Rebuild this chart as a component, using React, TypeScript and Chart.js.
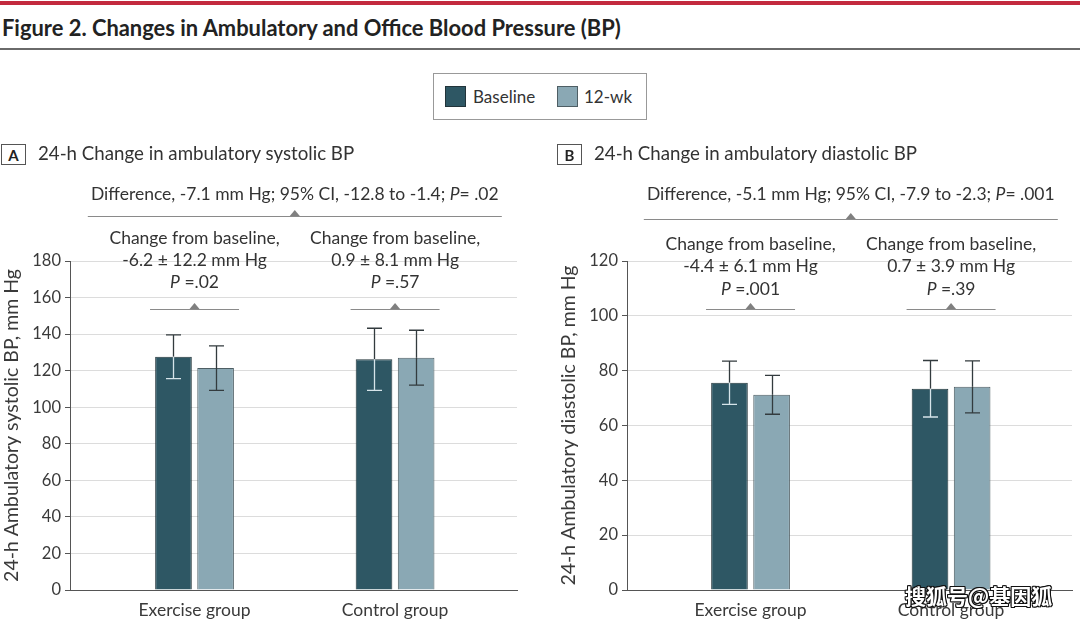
import React, { useEffect, useRef } from 'react';
import { Chart, registerables } from 'chart.js';

Chart.register(...registerables);

const FONT = 'Lato, "Noto Sans", Roboto, sans-serif';
const TEXT = '#333333';
const BASE_COLOR = '#2e5764';
const WK_COLOR = '#8aa8b4';

// ---- data ----
const groups = ['Exercise group', 'Control group'];
const groupPositions = [1, 2];
const seriesNames = ['Baseline', '12-wk'];

const systolicBaseline = [127.6, 126.2];
const systolicBaselineSD = [12.0, 17.0];
const systolic12wk = [121.4, 127.1];
const systolic12wkSD = [12.2, 15.0];

const diastolicBaseline = [75.6, 73.4];
const diastolicBaselineSD = [7.9, 10.3];
const diastolic12wk = [71.2, 74.1];
const diastolic12wkSD = [7.1, 9.5];

const systolicTicks = [0, 20, 40, 60, 80, 100, 120, 140, 160, 180];
const diastolicTicks = [0, 20, 40, 60, 80, 100, 120];

const systolicDifference = 'Difference, -7.1 mm Hg; 95% CI, -12.8 to -1.4; ';
const systolicDifferenceP = '= .02';
const systolicChange = ['-6.2 ± 12.2 mm Hg', '0.9 ± 8.1 mm Hg'];
const systolicChangeP = [' =.02', ' =.57'];

const diastolicDifference = 'Difference, -5.1 mm Hg; 95% CI, -7.9 to -2.3; ';
const diastolicDifferenceP = '= .001';
const diastolicChange = ['-4.4 ± 6.1 mm Hg', '0.7 ± 3.9 mm Hg'];
const diastolicChangeP = [' =.001', ' =.39'];

// ---- helpers ----
type Seg = { t: string; i?: boolean };

const ANNOT_SIZE = 17.5;

function drawRich(ctx: CanvasRenderingContext2D, segs: Seg[], cx: number, cy: number, size: number) {
  const fontOf = (s: Seg) => `${s.i ? 'italic ' : ''}${size}px ${FONT}`;
  let total = 0;
  const widths = segs.map((s) => {
    ctx.font = fontOf(s);
    const w = ctx.measureText(s.t).width;
    total += w;
    return w;
  });
  let x = cx - total / 2;
  ctx.textBaseline = 'middle';
  ctx.textAlign = 'left';
  ctx.fillStyle = TEXT;
  segs.forEach((s, k) => {
    ctx.font = fontOf(s);
    ctx.fillText(s.t, x, cy);
    x += widths[k];
  });
}

function drawBracket(ctx: CanvasRenderingContext2D, cx: number, y: number, half: number) {
  ctx.strokeStyle = '#8a8a8a';
  ctx.lineWidth = 1;
  ctx.beginPath();
  ctx.moveTo(cx - half, Math.round(y) + 0.5);
  ctx.lineTo(cx + half, Math.round(y) + 0.5);
  ctx.stroke();
  ctx.fillStyle = '#808080';
  ctx.beginPath();
  ctx.moveTo(cx - 5, Math.round(y));
  ctx.lineTo(cx + 5, Math.round(y));
  ctx.lineTo(cx, Math.round(y) - 6);
  ctx.closePath();
  ctx.fill();
}

const annotPlugin = {
  id: 'bpAnnot',
  afterDraw(chart: any, _args: any, opts: any) {
    const ctx: CanvasRenderingContext2D = chart.ctx;
    const xs = chart.scales.x;
    const centers = groupPositions.map((v) => xs.getPixelForValue(v));
    const mid = (centers[0] + centers[1]) / 2;
    ctx.save();
    drawRich(ctx, [{ t: opts.diff }, { t: 'P', i: true }, { t: opts.diffP }], mid, opts.diffY, ANNOT_SIZE);
    drawBracket(ctx, mid, opts.bigLineY, 207);
    centers.forEach((c, i) => {
      drawRich(ctx, [{ t: 'Change from baseline,' }], c, opts.lineY[0], ANNOT_SIZE);
      drawRich(ctx, [{ t: opts.change[i] }], c, opts.lineY[1], ANNOT_SIZE);
      drawRich(ctx, [{ t: 'P', i: true }, { t: opts.p[i] }], c, opts.lineY[2], ANNOT_SIZE);
      drawBracket(ctx, c, opts.smallLineY, 44.5);
    });
    ctx.restore();
  },
};

const errorBarPlugin = {
  id: 'errBars',
  afterDatasetsDraw(chart: any) {
    const ctx: CanvasRenderingContext2D = chart.ctx;
    const ys = chart.scales.y;
    ctx.save();
    ctx.lineWidth = 1.3;
    chart.data.datasets.forEach((ds: any, di: number) => {
      const meta = chart.getDatasetMeta(di);
      meta.data.forEach((bar: any, i: number) => {
        const v = ds.data[i].y;
        const e = ds.errors[i];
        const yTop = ys.getPixelForValue(v + e);
        const yBot = ys.getPixelForValue(v - e);
        const x = Math.round(bar.x) + 0.5;
        const cap = 7.5;
        ctx.strokeStyle = '#333b3e';
        ctx.beginPath();
        ctx.moveTo(x, yTop);
        ctx.lineTo(x, bar.y);
        ctx.moveTo(x - cap, yTop);
        ctx.lineTo(x + cap, yTop);
        ctx.stroke();
        ctx.strokeStyle = ds.errInner;
        ctx.beginPath();
        ctx.moveTo(x, bar.y);
        ctx.lineTo(x, yBot);
        ctx.moveTo(x - cap, yBot);
        ctx.lineTo(x + cap, yBot);
        ctx.stroke();
      });
    });
    ctx.restore();
  },
};

type PanelProps = {
  left: number;
  width: number;
  padLeft: number;
  padRight: number;
  xMin: number;
  xMax: number;
  yMax: number;
  yTicks: number[];
  baseline: number[];
  baselineSD: number[];
  wk12: number[];
  wk12SD: number[];
  yTitle: string;
  annot: any;
};

function BPChart(p: PanelProps) {
  const ref = useRef<HTMLCanvasElement>(null);
  useEffect(() => {
    const chart = new Chart(ref.current as HTMLCanvasElement, {
      type: 'bar',
      data: {
        datasets: [
          {
            label: seriesNames[0],
            data: groupPositions.map((x, i) => ({ x, y: p.baseline[i] })),
            errors: p.baselineSD,
            errInner: '#d6e4e9',
            backgroundColor: BASE_COLOR,
            borderColor: '#22343a',
            borderWidth: 1,
            categoryPercentage: 0.42,
            barPercentage: 0.87,
          } as any,
          {
            label: seriesNames[1],
            data: groupPositions.map((x, i) => ({ x, y: p.wk12[i] })),
            errors: p.wk12SD,
            errInner: '#333b3e',
            backgroundColor: WK_COLOR,
            borderColor: '#4e5e64',
            borderWidth: 1,
            categoryPercentage: 0.42,
            barPercentage: 0.87,
          } as any,
        ],
      },
      options: {
        responsive: false,
        animation: false,
        devicePixelRatio: 1,
        layout: { padding: { left: p.padLeft, right: p.padRight, top: 261, bottom: 0 } },
        plugins: {
          legend: { display: false },
          tooltip: { enabled: false },
          bpAnnot: p.annot,
        } as any,
        scales: {
          x: {
            type: 'linear',
            min: p.xMin,
            max: p.xMax,
            offset: false,
            afterBuildTicks: (s: any) => {
              s.ticks = groupPositions.map((v) => ({ value: v }));
            },
            afterFit: (s: any) => {
              s.height = 32;
            },
            ticks: {
              autoSkip: false,
              maxRotation: 0,
              padding: 10,
              color: '#3a3a3a',
              font: { family: FONT, size: 17.5 },
              callback: (v: any) => groups[groupPositions.indexOf(Number(v))] ?? '',
            },
            grid: { display: false, drawTicks: false, offset: false },
            border: { display: true, color: '#555555', width: 1 },
          },
          y: {
            min: 0,
            max: p.yMax,
            afterBuildTicks: (s: any) => {
              s.ticks = p.yTicks.map((v) => ({ value: v }));
            },
            afterFit: (s: any) => {
              s.width = 70;
            },
            ticks: {
              padding: 4,
              color: '#3a3a3a',
              font: { family: FONT, size: 16.5 },
            },
            grid: {
              color: (c: any) => (c.tick && c.tick.value === 0 ? 'rgba(0,0,0,0)' : '#dcdcdc'),
              tickColor: '#555555',
              tickLength: 5,
              lineWidth: 1,
            },
            border: { display: true, color: '#555555', width: 1 },
            title: {
              display: true,
              text: p.yTitle,
              color: '#3a3a3a',
              font: { family: FONT, size: 19.5 },
              padding: { top: 0, bottom: 0 },
            },
          },
        },
      } as any,
      plugins: [errorBarPlugin, annotPlugin],
    });
    return () => chart.destroy();
  }, []);
  return (
    <canvas
      ref={ref}
      width={p.width}
      height={622}
      style={{ position: 'absolute', left: p.left, top: 0, width: p.width, height: 622 }}
    />
  );
}

function PanelHeading({ letter, text, boxLeft, textLeft }: { letter: string; text: string; boxLeft: number; textLeft: number }) {
  return (
    <>
      <div
        style={{
          position: 'absolute',
          left: boxLeft,
          top: 144,
          width: 25,
          height: 21,
          border: '1px solid #555',
          boxSizing: 'border-box',
          font: `bold 15px ${FONT}`,
          color: '#222',
          display: 'flex',
          alignItems: 'center',
          justifyContent: 'center',
          background: '#fff',
        }}
      >
        {letter}
      </div>
      <div
        style={{
          position: 'absolute',
          left: textLeft,
          top: 142,
          height: 22,
          lineHeight: '22px',
          font: `18.7px ${FONT}`,
          color: '#333',
          whiteSpace: 'nowrap',
        }}
      >
        {text}
      </div>
    </>
  );
}

export default function App() {
  return (
    <div
      style={{
        position: 'fixed',
        left: 0,
        top: 0,
        width: 1080,
        height: 622,
        background: '#ffffff',
        overflow: 'hidden',
        fontFamily: FONT,
      }}
    >
      <div style={{ position: 'absolute', left: 0, top: 1, width: 1080, height: 4, background: '#c32a3e' }} />
      <div
        style={{
          position: 'absolute',
          left: 2,
          top: 14,
          height: 28,
          lineHeight: '28px',
          font: `bold 21.9px ${FONT}`,
          color: '#222',
          whiteSpace: 'nowrap',
        }}
      >
        Figure 2. Changes in Ambulatory and Office Blood Pressure (BP)
      </div>
      <div style={{ position: 'absolute', left: 0, top: 48, width: 1080, height: 2, background: '#6a6a6a' }} />

      {/* legend */}
      <div
        style={{
          position: 'absolute',
          left: 433,
          top: 73,
          width: 214,
          height: 47,
          border: '1px solid #999',
          boxSizing: 'border-box',
          background: '#fff',
        }}
      />
      <div style={{ position: 'absolute', left: 445, top: 86, width: 21, height: 21, background: BASE_COLOR, border: '1px solid #22343a', boxSizing: 'border-box' }} />
      <div style={{ position: 'absolute', left: 473, top: 86, lineHeight: '21px', font: `17px ${FONT}`, color: '#333' }}>{seriesNames[0]}</div>
      <div style={{ position: 'absolute', left: 557, top: 86, width: 21, height: 21, background: WK_COLOR, border: '1px solid #4e5e64', boxSizing: 'border-box' }} />
      <div style={{ position: 'absolute', left: 584, top: 86, lineHeight: '21px', font: `17px ${FONT}`, color: '#333' }}>{seriesNames[1]}</div>

      <BPChart
        left={0}
        width={540}
        padLeft={0}
        padRight={23}
        xMin={0.379}
        xMax={2.608}
        yMax={180}
        yTicks={systolicTicks}
        baseline={systolicBaseline}
        baselineSD={systolicBaselineSD}
        wk12={systolic12wk}
        wk12SD={systolic12wkSD}
        yTitle="24-h Ambulatory systolic BP, mm Hg"
        annot={{
          diff: systolicDifference,
          diffP: systolicDifferenceP,
          change: systolicChange,
          p: systolicChangeP,
          diffY: 194,
          bigLineY: 216,
          lineY: [238, 260, 282],
          smallLineY: 309,
        }}
      />
      <BPChart
        left={540}
        width={540}
        padLeft={17}
        padRight={8}
        xMin={0.384}
        xMax={2.603}
        yMax={120}
        yTicks={diastolicTicks}
        baseline={diastolicBaseline}
        baselineSD={diastolicBaselineSD}
        wk12={diastolic12wk}
        wk12SD={diastolic12wkSD}
        yTitle="24-h Ambulatory diastolic BP, mm Hg"
        annot={{
          diff: diastolicDifference,
          diffP: diastolicDifferenceP,
          change: diastolicChange,
          p: diastolicChangeP,
          diffY: 194,
          bigLineY: 219,
          lineY: [244, 266, 289],
          smallLineY: 309,
        }}
      />

      <PanelHeading letter="A" text="24-h Change in ambulatory systolic BP" boxLeft={1} textLeft={38} />
      <PanelHeading letter="B" text="24-h Change in ambulatory diastolic BP" boxLeft={557} textLeft={594} />

      <div
        style={{
          position: 'absolute',
          left: 905,
          top: 580,
          lineHeight: '26px',
          font: 'bold 21px "Noto Sans CJK SC", sans-serif',
          color: '#ffffff',
          whiteSpace: 'nowrap',
          textShadow: '-1px -1px 0 #111, 1px -1px 0 #111, -1px 1px 0 #111, 1px 1px 0 #111, 0 1px 0 #111, 0 -1px 0 #111, 1px 0 0 #111, -1px 0 0 #111',
        }}
      >
        搜狐号@基因狐
      </div>
    </div>
  );
}
